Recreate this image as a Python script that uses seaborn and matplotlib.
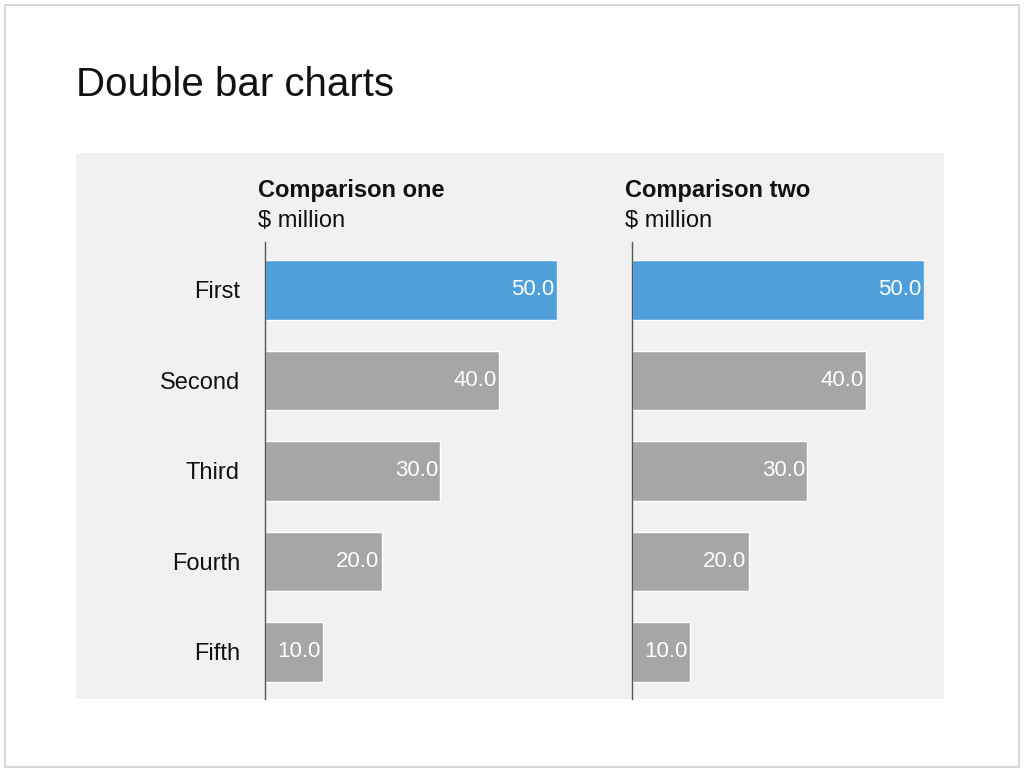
import matplotlib
matplotlib.use("Agg")
import matplotlib.pyplot as plt
import matplotlib.patches as mpatches
import seaborn as sns
import pandas as pd

categories = ["First", "Second", "Third", "Fourth", "Fifth"]
values_one = [50.0, 40.0, 30.0, 20.0, 10.0]
values_two = [50.0, 40.0, 30.0, 20.0, 10.0]
titles = ["Comparison one", "Comparison two"]
unit = "$ million"

sns.set_theme(style="white")
plt.rcParams['font.family'] = ['Liberation Sans', 'DejaVu Sans']

W, H = 1024, 772
fig = plt.figure(figsize=(W/100, H/100), dpi=100)
bg = fig.add_axes([0, 0, 1, 1], zorder=-1)
bg.set_xlim(0, W); bg.set_ylim(H, 0); bg.axis("off")
bg.add_patch(mpatches.Rectangle((5, 5), 1014, 762, fill=False, edgecolor="#d9d9d9", lw=1.5))
bg.add_patch(mpatches.Rectangle((76, 153), 868, 546, facecolor="#f1f1f1", edgecolor="none"))
fig.text(76/W, 1-85/H, "Double bar charts", fontsize=29, va="center", ha="left", color="#111111")

palette = ["#4fa0da", "#a6a6a6", "#a6a6a6", "#a6a6a6", "#a6a6a6"]
bottom = 1-699/H
height = (699-242)/H
for i, (x0, vals) in enumerate([(265, values_one), (632, values_two)]):
    ax = fig.add_axes([x0/W, bottom, 292/W, height])
    ax.set_facecolor("none")
    df = pd.DataFrame({"cat": categories, "val": vals})
    sns.barplot(data=df, x="val", y="cat", hue="cat", palette=palette, legend=False,
                width=0.66, ax=ax, saturation=1)
    ax.set_xlim(0, 50)
    ax.set_ylim(4.52, -0.53)
    for s in ["top", "right", "bottom"]:
        ax.spines[s].set_visible(False)
    ax.spines["left"].set_color("#555555")
    ax.spines["left"].set_linewidth(1)
    ax.set_xticks([])
    ax.set_xlabel(""); ax.set_ylabel("")
    if i == 0:
        ax.tick_params(axis="y", length=0, labelsize=17, pad=18, labelcolor="#111111")
    else:
        ax.set_yticks([])
    for j, v in enumerate(vals):
        ax.text(v - 0.4, j, f"{v:.1f}", color="white", fontsize=16, ha="right", va="center")
    fig.text((x0-7)/W, 1-190/H, titles[i], fontsize=17, fontweight="bold", ha="left", va="center", color="#111111")
    fig.text((x0-7)/W, 1-221/H, unit, fontsize=17, ha="left", va="center", color="#111111")

fig.savefig("out.png", dpi=100)
